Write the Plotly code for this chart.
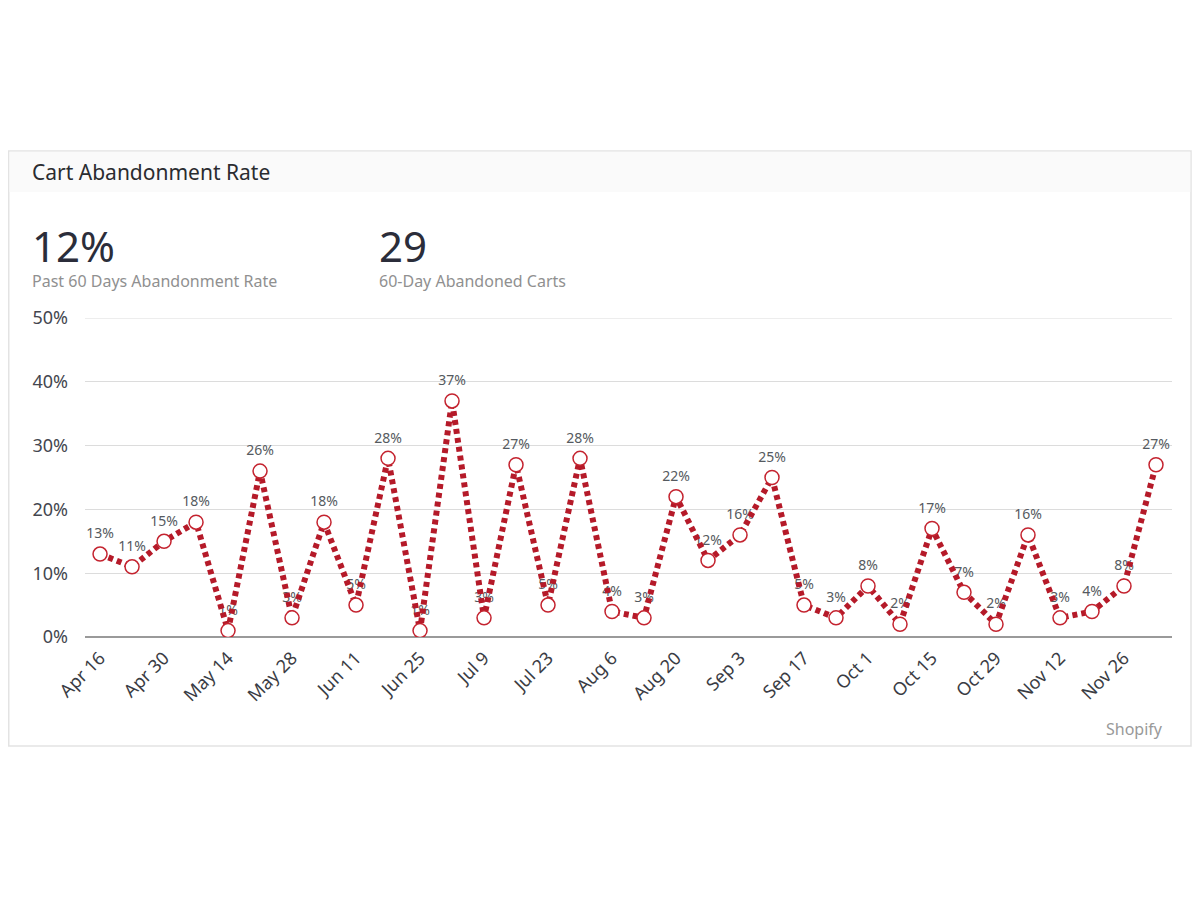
import plotly.graph_objects as go

weeks = ['Apr 16', 'Apr 23', 'Apr 30', 'May 7', 'May 14', 'May 21', 'May 28', 'Jun 4',
         'Jun 11', 'Jun 18', 'Jun 25', 'Jul 2', 'Jul 9', 'Jul 16', 'Jul 23', 'Jul 30',
         'Aug 6', 'Aug 13', 'Aug 20', 'Aug 27', 'Sep 3', 'Sep 10', 'Sep 17', 'Sep 24',
         'Oct 1', 'Oct 8', 'Oct 15', 'Oct 22', 'Oct 29', 'Nov 5', 'Nov 12', 'Nov 19',
         'Nov 26', 'Dec 3']
rates = [13, 11, 15, 18, 1, 26, 3, 18, 5, 28, 1, 37, 3, 27, 5, 28,
         4, 3, 22, 12, 16, 25, 5, 3, 8, 2, 17, 7, 2, 16, 3, 4, 8, 27]
tick_weeks = weeks[::2]
y_ticks = [0, 10, 20, 30, 40, 50]

FONT = 'Noto Sans'
RED = '#b51a29'

fig = go.Figure()

# labels first so the dotted line sits on top of them, like the original;
# invisible markers push the text up off the points
fig.add_trace(go.Scatter(
    x=weeks, y=rates, mode='markers+text',
    text=[f'{v}%' for v in rates],
    textposition='top center',
    marker=dict(size=18, color='rgba(0,0,0,0)'),
    textfont=dict(family=FONT, size=14, color='#555a60'),
    hoverinfo='skip', showlegend=False
))

fig.add_trace(go.Scatter(
    x=weeks, y=rates, mode='lines+markers',
    line=dict(color=RED, width=6, dash='5px,4px'),
    marker=dict(size=14, color='white', line=dict(color='#c4232f', width=1.5)),
    showlegend=False
))

# card frame and header band (paper coords: plot area is 1087 x 319 px)
fig.add_shape(type='rect', xref='paper', yref='paper',
              x0=(8.75-85)/1087, x1=(1191-85)/1087, y0=(637-746)/319, y1=(637-151)/319,
              line=dict(color='#e3e3e3', width=1.5), fillcolor='rgba(0,0,0,0)', layer='below')
fig.add_shape(type='rect', xref='paper', yref='paper',
              x0=(9.5-85)/1087, x1=(1190.25-85)/1087, y0=(637-192)/319, y1=(637-151.75)/319,
              line=dict(width=0), fillcolor='#fafafa', layer='below')
# top gridline at 50%
fig.add_shape(type='line', xref='paper', yref='y', x0=0, x1=1, y0=50, y1=50,
              line=dict(color='#dcdcdc', width=1), layer='below')

annots = [
    dict(text='Cart Abandonment Rate', x=30, y=172, size=21, color='#2a2c30'),
    dict(text='12%', x=30, y=246, size=42, color='#2b2d3a'),
    dict(text='Past 60 Days Abandonment Rate', x=30, y=281, size=16, color='#909090'),
    dict(text='29', x=377, y=246, size=42, color='#2b2d3a'),
    dict(text='60-Day Abandoned Carts', x=377, y=281, size=16, color='#909090'),
]
for a in annots:
    fig.add_annotation(text=a['text'], xref='paper', yref='paper',
                       x=(a['x'] - 85) / 1087, y=(637 - a['y']) / 319,
                       xanchor='left', yanchor='middle', showarrow=False,
                       font=dict(family=FONT, size=a['size'], color=a['color']))
fig.add_annotation(text='Shopify', xref='paper', yref='paper',
                   x=(1165 - 85) / 1087, y=(637 - 729) / 319,
                   xanchor='right', yanchor='middle', showarrow=False,
                   font=dict(family=FONT, size=16, color='#999999'))

# page body has an 8px offset, so margins are shifted by 8
# and the figure is trimmed so it fits the window without scrolling
fig.update_layout(
    width=1184, height=884,
    paper_bgcolor='white', plot_bgcolor='white',
    margin=dict(l=77, r=20, t=310, b=255),
    font=dict(family=FONT),
    xaxis=dict(
        type='category', range=[-0.47, 33.5],
        tickmode='array', tickvals=tick_weeks, ticktext=tick_weeks,
        tickangle=-45, tickfont=dict(size=18, color='#3a3c44'),
        showgrid=False, zeroline=False, showline=False, ticks='',
        ticklabelstandoff=6
    ),
    yaxis=dict(
        range=[0, 50], tickvals=y_ticks, ticktext=[f'{v}%' for v in y_ticks],
        tickfont=dict(size=18, color='#44464e'),
        gridcolor='#dcdcdc', gridwidth=1,
        zeroline=True, zerolinecolor='#9a9a9a', zerolinewidth=1.5,
        showline=False, ticks='', ticklabelstandoff=16
    ),
)

fig.write_html('out.html')
